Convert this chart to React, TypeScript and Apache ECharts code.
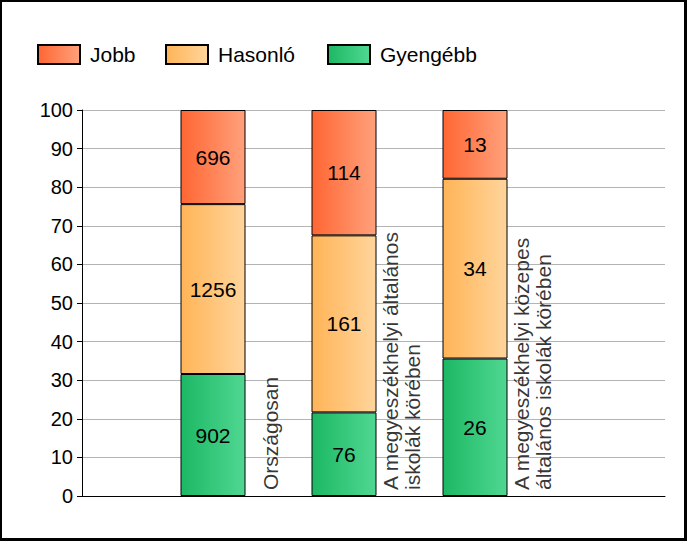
import React, { useEffect, useRef } from "react";
import * as echarts from "echarts";

const categories = [
  "Országosan",
  "A megyeszékhelyi általános\niskolák körében",
  "A megyeszékhelyi közepes\náltalános iskolák körében",
];
const seriesNames = ["Gyengébb", "Hasonló", "Jobb"];
const gyengebb = [902, 76, 26];
const hasonlo = [1256, 161, 34];
const jobb = [696, 114, 13];
const yTicks = [0, 10, 20, 30, 40, 50, 60, 70, 80, 90, 100];

const FONT = "'Liberation Sans', Arial, sans-serif";

const grad = (a: string, b: string) =>
  new echarts.graphic.LinearGradient(0, 0, 1, 0, [
    { offset: 0, color: a },
    { offset: 1, color: b },
  ]);

export default function App() {
  const ref = useRef<HTMLDivElement>(null);
  useEffect(() => {
    document.body.style.margin = "0";
    if (!ref.current) return;
    const chart = echarts.init(ref.current, null, { renderer: "svg" });
    const counts = [gyengebb, hasonlo, jobb];
    const totals = categories.map((_, i) => gyengebb[i] + hasonlo[i] + jobb[i]);
    const colors = [
      grad("#1CB864", "#50D792"),
      grad("#FFB457", "#FFD59C"),
      grad("#FF6633", "#FFA17C"),
    ];
    const slots = ["", ...categories, ""];
    const labelShift = 0.44;
    const barSeries = counts.map((arr, s) => ({
      name: seriesNames[s],
      type: "bar",
      stack: "total",
      barWidth: 65,
      xAxisIndex: 1,
      yAxisIndex: 1,
      data: ["-", ...arr.map((v, i) => (v / totals[i]) * 100), "-"],
      itemStyle: { color: colors[s], borderColor: "#000", borderWidth: 1 },
      label: {
        show: true,
        position: "inside",
        color: "#000",
        fontFamily: FONT,
        fontSize: 21,
        formatter: (p: any) => String(arr[p.dataIndex - 1]),
      },
    }));
    const legendBase = {
      top: 44,
      padding: 0,
      icon: "rect",
      itemWidth: 42,
      itemHeight: 19,
      textStyle: { fontFamily: FONT, fontSize: 21, color: "#000", padding: [0, 0, 0, 5] },
      selectedMode: false,
    };
    chart.setOption({
      animation: false,
      legend: [
        { ...legendBase, left: 37, data: ["Jobb"] },
        { ...legendBase, left: 165, data: ["Hasonló"] },
        { ...legendBase, left: 327, data: ["Gyengébb"] },
      ],
      grid: [
        { left: 82, right: 22, top: 110, bottom: 45 },
        { left: 82, right: 81, top: 110, bottom: 45 },
      ],
      xAxis: [
        {
          type: "value",
          gridIndex: 0,
          min: 0,
          max: 4.45,
          axisLine: { show: true, lineStyle: { color: "#000", width: 1 } },
          axisTick: { show: false },
          axisLabel: { show: false },
          splitLine: { show: false },
        },
        {
          type: "category",
          gridIndex: 1,
          data: slots,
          boundaryGap: false,
          axisLine: { show: false },
          axisTick: { show: false },
          axisLabel: { show: false },
          splitLine: { show: false },
        },
      ],
      yAxis: [
        {
          type: "value",
          gridIndex: 0,
          min: yTicks[0],
          max: yTicks[yTicks.length - 1],
          interval: 10,
          axisLine: { show: true, lineStyle: { color: "#000", width: 1 } },
          axisTick: { show: true, length: 5, lineStyle: { color: "#000" } },
          axisLabel: { color: "#000", fontFamily: FONT, fontSize: 20, margin: 9 },
          splitLine: { show: true, lineStyle: { color: "#B4B4B4", width: 1 } },
        },
        {
          type: "value",
          gridIndex: 1,
          min: yTicks[0],
          max: yTicks[yTicks.length - 1],
          show: false,
        },
      ],
      series: [
        ...barSeries,
        {
          type: "scatter",
          silent: true,
          symbolSize: 0,
          xAxisIndex: 0,
          yAxisIndex: 0,
          data: categories.map((c, i) => ({ value: [i + 1 + labelShift, 0], name: c })),
          label: {
            show: true,
            position: "inside",
            rotate: 90,
            align: "left",
            verticalAlign: "middle",
            padding: [0, 0, 0, 6],
            color: "#000",
            fontFamily: FONT,
            fontSize: 21,
            lineHeight: 22,
            formatter: (p: any) => p.name,
          },
        },
      ],
    });
    return () => chart.dispose();
  }, []);
  return (
    <div style={{ position: "relative", width: 687, height: 541, background: "#fff" }}>
      <div ref={ref} style={{ position: "absolute", left: 0, top: 0, width: 687, height: 541 }} />
      <div
        style={{
          position: "absolute",
          left: 0,
          top: 0,
          width: 687,
          height: 541,
          boxSizing: "border-box",
          borderStyle: "solid",
          borderColor: "#000",
          borderWidth: "2px 3px 3px 2px",
          pointerEvents: "none",
        }}
      />
    </div>
  );
}
